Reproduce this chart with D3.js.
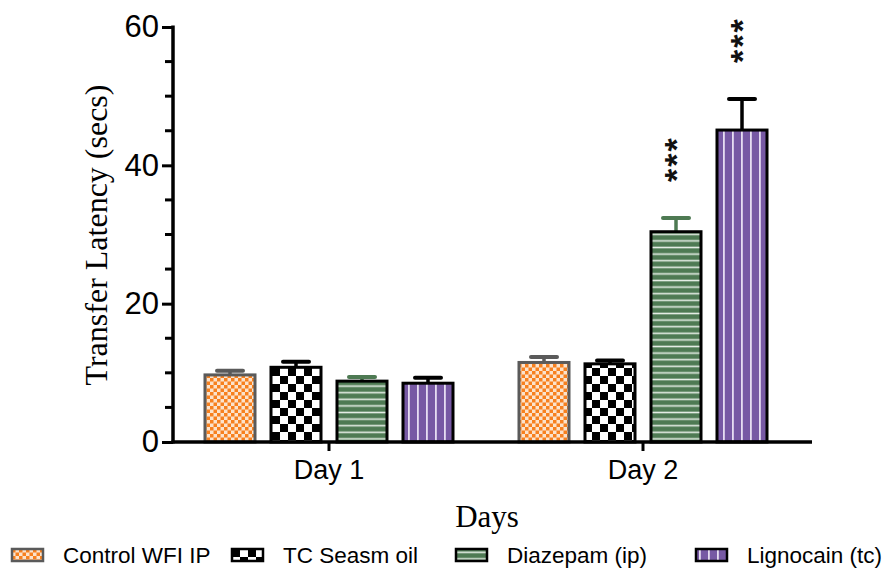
<!DOCTYPE html>
<html>
<head>
<meta charset="utf-8">
<script src="https://cdn.jsdelivr.net/npm/d3@7"></script>
<style>
  html, body { margin: 0; padding: 0; background: #fff; }
  svg { display: block; }
</style>
</head>
<body>
<svg id="chart" width="882" height="569"></svg>
<script>
// Transfer latency by day and treatment group
const days = ["Day 1", "Day 2"];
const groups = ["Control WFI IP", "TC Seasm oil", "Diazepam (ip)", "Lignocain (tc)"];
const meanDay1 = [9.7, 10.8, 8.8, 8.5];
const meanDay2 = [11.5, 11.3, 30.4, 45.1];
const semDay1 = [0.6, 0.8, 0.6, 0.8];
const semDay2 = [0.8, 0.5, 2.0, 4.5];
const significance = [["", "", "", ""], ["", "", "***", "***"]];
const yTicks = [0, 20, 40, 60];
const yMinorTicks = [5, 10, 15, 25, 30, 35, 45, 50, 55];

const rows = days.map((d, i) => ({
  day: d,
  values: groups.map((g, j) => ({
    day: d, group: g, gi: j,
    mean: [meanDay1, meanDay2][i][j],
    sem: [semDay1, semDay2][i][j],
    sig: significance[i][j]
  }))
}));

const svg = d3.select("#chart");
const defs = svg.append("defs");

// Fill patterns for each treatment group
const pCtrl = defs.append("pattern").attr("id", "pat0").attr("patternUnits", "userSpaceOnUse")
  .attr("width", 7).attr("height", 7);
pCtrl.append("rect").attr("width", 7).attr("height", 7).attr("fill", "#fbe3cc");
pCtrl.append("rect").attr("x", 0).attr("y", 0).attr("width", 3.5).attr("height", 3.5).attr("fill", "#f7801e");
pCtrl.append("rect").attr("x", 3.5).attr("y", 3.5).attr("width", 3.5).attr("height", 3.5).attr("fill", "#f7801e");

const pTc = defs.append("pattern").attr("id", "pat1").attr("patternUnits", "userSpaceOnUse")
  .attr("width", 16).attr("height", 16);
pTc.append("rect").attr("width", 16).attr("height", 16).attr("fill", "#fff");
pTc.append("rect").attr("x", 0).attr("y", 0).attr("width", 8).attr("height", 8).attr("fill", "#000");
pTc.append("rect").attr("x", 8).attr("y", 8).attr("width", 8).attr("height", 8).attr("fill", "#000");

const pDia = defs.append("pattern").attr("id", "pat2").attr("patternUnits", "userSpaceOnUse")
  .attr("width", 10).attr("height", 6.6);
pDia.append("rect").attr("width", 10).attr("height", 6.6).attr("fill", "#4e7a53");
pDia.append("rect").attr("x", 0).attr("y", 2.5).attr("width", 10).attr("height", 1.6).attr("fill", "#e4ece4");

const pLig = defs.append("pattern").attr("id", "pat3").attr("patternUnits", "userSpaceOnUse")
  .attr("width", 9).attr("height", 10);
pLig.append("rect").attr("width", 9).attr("height", 10).attr("fill", "#7759a4");
pLig.append("rect").attr("x", 3).attr("y", 0).attr("width", 1.8).attr("height", 10).attr("fill", "#e6ddf2");

const strokeColors = ["#5a5a5a", "#000", "#000", "#000"];
const errColors = ["#5a5a5a", "#000", "#4e7a53", "#000"];

// Scales
const y = d3.scaleLinear().domain([0, 60]).range([442, 27]);
const x0 = d3.scaleBand().domain(days).range([172, 800]).paddingInner(0).paddingOuter(0);
const x1 = d3.scaleBand().domain(groups).range([-132, 132]).paddingInner(0.2424).paddingOuter(0.1212);
const cx = (d) => x0(d.day) + x0.bandwidth() / 2 + x1(d.group);

// Bars
const g = svg.append("g");
const bars = g.selectAll("g.day").data(rows).join("g").attr("class", "day")
  .selectAll("g.bar").data(r => r.values).join("g").attr("class", "bar");

// Error bars (upper only)
bars.append("line")
  .attr("x1", d => cx(d) + x1.bandwidth() / 2).attr("x2", d => cx(d) + x1.bandwidth() / 2)
  .attr("y1", d => y(d.mean)).attr("y2", d => y(d.mean + d.sem))
  .attr("stroke", d => errColors[d.gi]).attr("stroke-width", 3.5);
bars.append("line")
  .attr("x1", d => cx(d) + x1.bandwidth() / 2 - 13).attr("x2", d => cx(d) + x1.bandwidth() / 2 + 13)
  .attr("y1", d => y(d.mean + d.sem)).attr("y2", d => y(d.mean + d.sem))
  .attr("stroke", d => errColors[d.gi]).attr("stroke-width", 4).attr("stroke-linecap", "round");

bars.append("rect")
  .attr("x", d => cx(d)).attr("width", x1.bandwidth())
  .attr("y", d => y(d.mean)).attr("height", d => y(0) - y(d.mean))
  .attr("fill", d => `url(#pat${d.gi})`)
  .attr("stroke", d => strokeColors[d.gi]).attr("stroke-width", 3);

// Significance stars, set vertically above the error bars
bars.filter(d => d.sig).append("text")
  .attr("transform", d => `translate(${cx(d) + x1.bandwidth() / 2 + 12},${y(d.mean + d.sem) - 36}) rotate(-90)`)
  .attr("font-family", "Liberation Sans, Arial, sans-serif")
  .attr("font-size", 34).attr("font-weight", "bold").attr("letter-spacing", 2)
  .attr("fill", "#111")
  .text(d => d.sig);

// Y axis
const yAxis = svg.append("g").attr("transform", "translate(173,0)");
yAxis.call(d3.axisLeft(y).tickValues(yTicks).tickSize(11).tickPadding(3).tickFormat(d3.format("d")));
yAxis.select(".domain").attr("stroke-width", 3.5).attr("d", `M0,${y(0) + 1.5}V${y(60) - 1.5}`);
yAxis.selectAll(".tick line").attr("stroke-width", 3);
yAxis.selectAll(".tick text")
  .attr("font-family", "Liberation Sans, Arial, sans-serif").attr("font-size", 31).attr("fill", "#000");
yAxis.selectAll("line.minor").data(yMinorTicks).join("line").attr("class", "minor")
  .attr("x1", -8).attr("x2", 0).attr("y1", d => y(d)).attr("y2", d => y(d))
  .attr("stroke", "#000").attr("stroke-width", 3);

// X axis
const xAxis = svg.append("g").attr("transform", `translate(0,${y(0)})`);
xAxis.call(d3.axisBottom(x0).tickSize(9).tickPadding(9));
xAxis.select(".domain").attr("stroke-width", 3.5).attr("d", "M171.5,0H812");
xAxis.selectAll(".tick line").attr("stroke-width", 3);
xAxis.selectAll(".tick text")
  .attr("font-family", "Liberation Sans, Arial, sans-serif").attr("font-size", 27).attr("fill", "#000");

// Axis titles
svg.append("text")
  .attr("transform", "translate(107,235) rotate(-90)")
  .attr("text-anchor", "middle")
  .attr("font-family", "Liberation Serif, Times New Roman, serif").attr("font-size", 32)
  .text("Transfer Latency (secs)");
svg.append("text")
  .attr("x", 487).attr("y", 527).attr("text-anchor", "middle")
  .attr("font-family", "Liberation Serif, Times New Roman, serif").attr("font-size", 31)
  .text("Days");

// Legend
const legendX = [12, 232, 456, 696];
const leg = svg.append("g").selectAll("g").data(groups).join("g")
  .attr("transform", (d, i) => `translate(${legendX[i]},549)`);
leg.append("rect").attr("width", 31).attr("height", 12)
  .attr("fill", (d, i) => `url(#pat${i})`)
  .attr("stroke", (d, i) => strokeColors[i]).attr("stroke-width", 2.5);
leg.append("text").attr("x", 51).attr("y", 14)
  .attr("font-family", "Liberation Sans, Arial, sans-serif").attr("font-size", 22.5)
  .text(d => d);
</script>
</body>
</html>
